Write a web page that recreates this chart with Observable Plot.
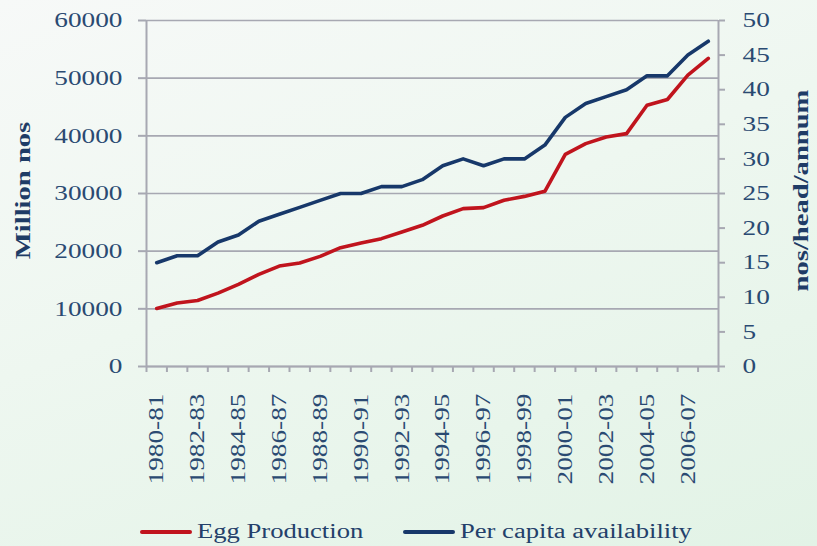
<!DOCTYPE html>
<html>
<head>
<meta charset="utf-8">
<script src="https://cdn.jsdelivr.net/npm/d3@7"></script>
<script src="https://cdn.jsdelivr.net/npm/@observablehq/plot@0.6"></script>
<style>
  html, body { margin: 0; padding: 0; }
  body {
    width: 817px; height: 546px; overflow: hidden; position: relative;
    background: linear-gradient(160deg, #f7f9f8 0%, #eef7f0 45%, #e2f3e6 100%);
    font-family: "Liberation Serif", "Times New Roman", serif;
  }
  #chart { position: absolute; left: 0; top: 0; }
  .legend { position: absolute; top: 518px; left: 0; width: 817px; height: 28px; color: #23406a; font-size: 20px; }
  .item { position: absolute; top: 0; height: 28px; }
  .swatch { position: absolute; top: 12px; width: 52px; height: 4px; border-radius: 2px; }
  .lbl { position: absolute; top: 0; white-space: nowrap; transform: scaleX(1.33); transform-origin: left center; line-height: 26px; }
</style>
</head>
<body>
<div id="chart"></div>
<div class="legend">
  <div class="item" style="left:140px"><div class="swatch" style="left:0;background:#c0141d"></div><div class="lbl" style="left:57px">Egg Production</div></div>
  <div class="item" style="left:403px"><div class="swatch" style="left:0;background:#17386a"></div><div class="lbl" style="left:57px">Per capita availability</div></div>
</div>
<script>
// ---- data ----
const years = ["1980-81","1981-82","1982-83","1983-84","1984-85","1985-86","1986-87","1987-88","1988-89","1989-90",
  "1990-91","1991-92","1992-93","1993-94","1994-95","1995-96","1996-97","1997-98","1998-99","1999-00",
  "2000-01","2001-02","2002-03","2003-04","2004-05","2005-06","2006-07","2007-08"];
const eggProduction = [10060, 11000, 11450, 12730, 14250, 15970, 17420, 17940, 19100, 20600,
  21400, 22170, 23320, 24480, 26100, 27370, 27550, 28820, 29500, 30380,
  36800, 38650, 39800, 40380, 45300, 46300, 50520, 53420];
const perCapita = [15, 16, 16, 18, 19, 21, 22, 23, 24, 25,
  25, 26, 26, 27, 29, 30, 29, 30, 30, 32,
  36, 38, 39, 40, 42, 42, 45, 47];
const leftTicks = [0, 10000, 20000, 30000, 40000, 50000, 60000];
const rightTicks = [0, 5, 10, 15, 20, 25, 30, 35, 40, 45, 50];
const labelYears = years.filter((d, i) => i % 2 === 0);

// ---- chart ----
const leftMax = 60000, rightMax = 50, k = leftMax / rightMax;
const data = years.map((y, i) => ({i, year: y, egg: eggProduction[i], pc: perCapita[i]}));
const gray = "#a7a8b2";
const textColor = "#2a4a72";
const red = "#c0141d", navy = "#17386a";

const chart = Plot.plot({
  width: 817, height: 500,
  marginLeft: 146, marginRight: 99, marginTop: 20, marginBottom: 134,
  style: {background: "transparent", fontFamily: "'Liberation Serif', serif", fontSize: "21px", color: textColor, overflow: "visible"},
  x: {type: "linear", domain: [0, years.length], axis: null},
  y: {domain: [0, leftMax], axis: null},
  marks: [
    Plot.gridY(leftTicks, {stroke: gray, strokeOpacity: 1, strokeWidth: 1.6}),
    Plot.ruleX([0, years.length], {stroke: gray, strokeWidth: 2}),
    Plot.ruleY([0], {stroke: gray, strokeWidth: 2}),
    Plot.axisY(leftTicks, {anchor: "left", tickSize: 8, tickPadding: 16, stroke: gray, strokeWidth: 2, label: null, tickFormat: d => String(d), fill: textColor}),
    Plot.axisY(rightTicks.map(v => v * k), {anchor: "right", tickSize: 6, tickPadding: 18, stroke: gray, strokeWidth: 2, label: null, tickFormat: d => String(Math.round(d / k)), fill: textColor}),
    Plot.axisX(d3.range(years.length + 1), {anchor: "bottom", tickSize: 6, stroke: gray, strokeWidth: 2, tickFormat: () => "", label: null}),
    Plot.axisX(labelYears.map(y => years.indexOf(y) + 0.5), {anchor: "bottom", tickSize: 0, tickPadding: 27, tickRotate: -90, tickFormat: d => years[d - 0.5], label: null, fill: textColor}),
    Plot.lineY(data, {x: d => d.i + 0.5, y: "egg", stroke: red, strokeWidth: 3.6, strokeLinejoin: "round", strokeLinecap: "round"}),
    Plot.lineY(data, {x: d => d.i + 0.5, y: d => d.pc * k, stroke: navy, strokeWidth: 3.6, strokeLinejoin: "round", strokeLinecap: "round"}),
    Plot.text(["Million nos"], {frameAnchor: "left", textAnchor: "middle", dx: -124, dy: -3, rotate: -90, fontWeight: "bold", fontSize: 22, fill: "#1f3c66"}),
    Plot.text(["nos/head/annum"], {frameAnchor: "right", textAnchor: "middle", dx: 82, dy: -3, rotate: -90, fontWeight: "bold", fontSize: 22, fill: "#1f3c66"})
  ]
});
document.getElementById("chart").appendChild(chart);

// stretch text along its reading direction (wide serif look of the original)
chart.querySelectorAll("text").forEach(el => {
  const t = el.getAttribute("transform") || "";
  el.setAttribute("transform", `${t} scale(1.3,1)`);
});
</script>
</body>
</html>
